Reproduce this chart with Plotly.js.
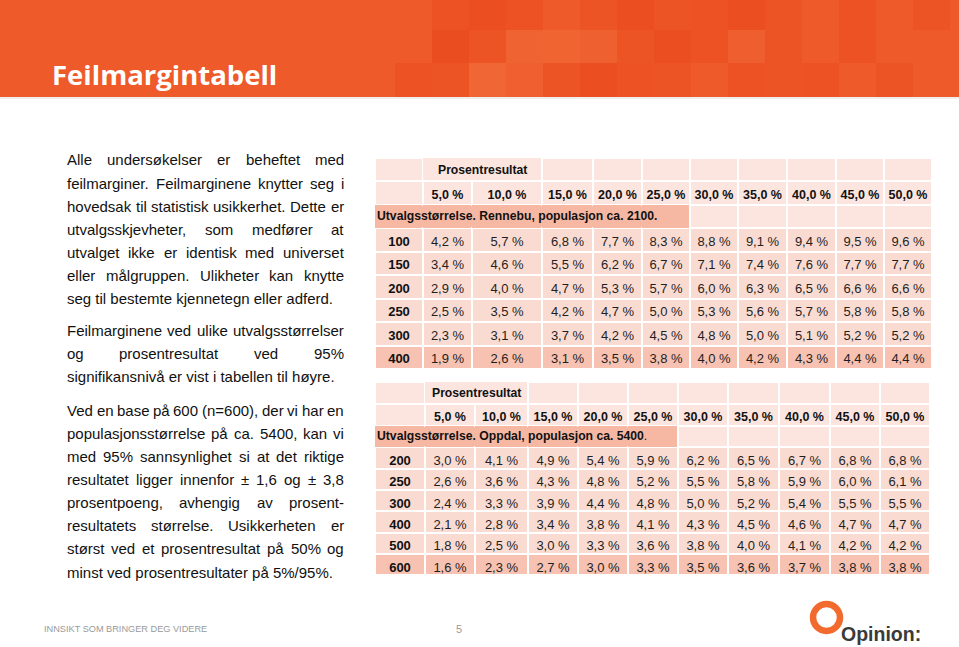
<!DOCTYPE html>
<html><head><meta charset="utf-8">
<script src="https://cdn.plot.ly/plotly-3.0.1.min.js"></script>
<style>html,body{margin:0;padding:0;background:#fff;}#chart{width:959px;height:647px;}</style>
</head><body><div id="chart"></div>
<script>
const W = 959, H = 647;

// ---------- data ----------
const percentLabels = [5, 10, 15, 20, 25, 30, 35, 40, 45, 50];
const headerLabel = 'Prosentresultat';

const rennebuTitle = 'Utvalgsstørrelse. Rennebu, populasjon ca. 2100.';
const rennebuSizes = [100, 150, 200, 250, 300, 400];
const rennebuMargins = [
  [4.2, 5.7, 6.8, 7.7, 8.3, 8.8, 9.1, 9.4, 9.5, 9.6],
  [3.4, 4.6, 5.5, 6.2, 6.7, 7.1, 7.4, 7.6, 7.7, 7.7],
  [2.9, 4.0, 4.7, 5.3, 5.7, 6.0, 6.3, 6.5, 6.6, 6.6],
  [2.5, 3.5, 4.2, 4.7, 5.0, 5.3, 5.6, 5.7, 5.8, 5.8],
  [2.3, 3.1, 3.7, 4.2, 4.5, 4.8, 5.0, 5.1, 5.2, 5.2],
  [1.9, 2.6, 3.1, 3.5, 3.8, 4.0, 4.2, 4.3, 4.4, 4.4]
];

const oppdalTitle = 'Utvalgsstørrelse. Oppdal, populasjon ca. 5400';
const oppdalSizes = [200, 250, 300, 400, 500, 600];
const oppdalMargins = [
  [3.0, 4.1, 4.9, 5.4, 5.9, 6.2, 6.5, 6.7, 6.8, 6.8],
  [2.6, 3.6, 4.3, 4.8, 5.2, 5.5, 5.8, 5.9, 6.0, 6.1],
  [2.4, 3.3, 3.9, 4.4, 4.8, 5.0, 5.2, 5.4, 5.5, 5.5],
  [2.1, 2.8, 3.4, 3.8, 4.1, 4.3, 4.5, 4.6, 4.7, 4.7],
  [1.8, 2.5, 3.0, 3.3, 3.6, 3.8, 4.0, 4.1, 4.2, 4.2],
  [1.6, 2.3, 2.7, 3.0, 3.3, 3.5, 3.6, 3.7, 3.8, 3.8]
];

const slideTitle = 'Feilmargintabell';
const footerText = 'INNSIKT SOM BRINGER DEG VIDERE';
const pageNumber = '5';
const logoText = 'Opinion:';

const paragraphs = [
  ['Alle undersøkelser er beheftet med',
   'feilmarginer.  Feilmarginene knytter seg i',
   'hovedsak til statistisk usikkerhet. Dette er',
   'utvalgsskjevheter, som medfører at',
   'utvalget ikke er identisk med universet',
   'eller målgruppen.  Ulikheter kan knytte',
   'seg til bestemte kjennetegn eller adferd.'],
  ['Feilmarginene ved ulike utvalgsstørrelser',
   'og prosentresultat ved 95%',
   'signifikansnivå er vist i tabellen til høyre.'],
  ['Ved en base på 600 (n=600), der vi har en',
   'populasjonsstørrelse på ca. 5400, kan vi',
   'med 95% sannsynlighet si at det riktige',
   'resultatet ligger innenfor ± 1,6 og ± 3,8',
   'prosentpoeng, avhengig av prosent-',
   'resultatets størrelse. Usikkerheten er',
   'størst ved et prosentresultat på  50% og',
   'minst ved prosentresultater på 5%/95%.']
];

// ---------- helpers ----------
const px = x => x / W;
const py = y => 1 - y / H;
const fmt = v => v.toFixed(1).replace('.', ',') + '\u00a0%';

const C_HEAD = '#FCE5DE', C_CELL = '#FADBD2', C_LAST = '#F7C2B1', C_MERGE = '#F6B8A3';
const TRANSP = 'rgba(0,0,0,0)';
const FONT = 'Liberation Sans, Arial, sans-serif';

function makeTable(sizes, margins, colWidths, x0, y0, headH, cellH) {
  const nCols = percentLabels.length + 1;
  const hv = [], hf = [], hl = [], cv = [], cf = [], cw = [], cc = [];
  for (let c = 0; c < nCols; c++) {
    hv.push(['', c === 0 ? '' : fmt(percentLabels[c - 1]), '']);
    hf.push([C_HEAD, C_HEAD, c <= 5 ? C_MERGE : C_HEAD]);
    hl.push([(c === 1 || c === 2) ? TRANSP : '#ffffff', '#ffffff', c <= 5 ? TRANSP : '#ffffff']);
    if (c === 0) cv.push(sizes.map(s => String(s)));
    else cv.push(margins.map(r => fmt(r[c - 1])));
    cf.push(sizes.map((s, i) => i === sizes.length - 1 ? C_LAST : C_CELL));
    cw.push(c === 0 ? 'bold' : 'normal');
    cc.push(c === 0 ? '#111111' : '#1f1f1f');
  }
  const totalW = colWidths.reduce((a, b) => a + b, 0);
  const totalH = 3 * headH + sizes.length * cellH;
  return {
    type: 'table',
    columnwidth: colWidths,
    domain: { x: [px(x0), px(x0 + totalW)], y: [py(y0 + totalH + 2), py(y0)] },
    header: {
      values: hv, height: headH, align: 'center',
      fill: { color: hf }, line: { color: hl, width: 2 },
      font: { family: FONT, size: 12.5, color: '#111', weight: 'bold' }
    },
    cells: {
      values: cv, height: cellH, align: 'center',
      fill: { color: cf }, line: { color: '#ffffff', width: 2 },
      font: { family: FONT, size: 13, color: cc, weight: cw }
    }
  };
}

const t1 = makeTable(rennebuSizes, rennebuMargins,
  [48, 49, 70, 51, 49, 48, 48, 49, 49, 48, 48], 375, 158, 23.4, 23.5);
const t2 = makeTable(oppdalSizes, oppdalMargins,
  [50, 50, 53, 50, 50, 50, 50, 51, 51, 50, 50], 375, 382, 21.8, 21.3);

// ---------- annotations ----------
const ann = [];
function txt(x, y, text, font, xanchor) {
  ann.push({ xref: 'paper', yref: 'paper', x: px(x), y: py(y), text: text,
    showarrow: false, xanchor: xanchor || 'left', yanchor: 'middle', borderpad: 0, font: font });
}
const mergeFont = { family: FONT, size: 12.2, color: '#111' };
txt(482, 170, '<b>' + headerLabel + '</b>', mergeFont, 'center');
txt(376, 216, '<b>' + rennebuTitle + '</b>', mergeFont);
txt(476, 393, '<b>' + headerLabel + '</b>', mergeFont, 'center');
txt(376, 436, '<b>' + oppdalTitle + '</b>.', mergeFont);

// body text, justified
const bodyFont = { family: FONT, size: 15, color: '#111' };
const ctx = document.createElement('canvas').getContext('2d');
ctx.font = '15px "Liberation Sans"';
const L = 66, R = 343, LS = 23.15;
const starts = [160, 330.5, 410];
paragraphs.forEach((lines, pi) => {
  lines.forEach((line, li) => {
    const y = starts[pi] + li * LS;
    if (li === lines.length - 1) { txt(L, y, line, bodyFont); return; }
    const words = line.split(/\s+/);
    const widths = words.map(w => ctx.measureText(w).width);
    const sum = widths.reduce((a, b) => a + b, 0);
    const gap = (R - L - sum) / (words.length - 1);
    let x = L;
    words.forEach((w, i) => { txt(x, y, w, bodyFont); x += widths[i] + gap; });
  });
});

txt(51, 75, '<b>' + slideTitle + '</b>', { family: 'Open Sans, sans-serif', size: 27.5, color: '#ffffff' });
txt(43, 629, footerText, { family: 'Liberation Sans Narrow, Liberation Sans, sans-serif', size: 9.2, color: '#9a9a9a' });
txt(455, 629, pageNumber, { family: FONT, size: 11, color: '#9a9a9a' });
txt(840, 634, '<b>' + logoText + '</b>', { family: FONT, size: 19.5, color: '#3a3a3a' });

// ---------- shapes ----------
const shapes = [];
shapes.push({ type: 'rect', xref: 'paper', yref: 'paper', x0: 0, x1: 1, y0: py(97), y1: 1,
  fillcolor: '#EE5A29', line: { width: 0 }, layer: 'below' });
const mosaic = [
  ['', '#EB4D20', '#E9471B', '#EB4D20', '', '#EC5022', '#E9471B', '#EC5022', '#EB4D20', '#E9471B', '#EC5022', '', '#EB4D20', '', '#EC5022', ''],
  ['', '#E7441A', '#EC5022', '#F16A38', '#F26D3B', '#F06636', '#EC5022', '#E9471B', '#EB4D20', '#F06234', '#EC5022', '', '#EB4D20', '', '', ''],
  ['#EB4D20', '#EC5022', '#F27240', '#F06535', '#EC5022', '#E9471B', '#EB4D20', '#EC5022', '', '#EB4D20', '#EC5022', '#EB4D20', '', '#EC5022', '', '']
];
const rowsY = [[0, 30], [30, 63], [63, 97]];
mosaic.forEach((row, ri) => row.forEach((col, ci) => {
  if (!col) return;
  const x0 = 395 + ci * 37;
  if (x0 >= W) return;
  shapes.push({ type: 'rect', xref: 'paper', yref: 'paper', x0: px(x0), x1: px(Math.min(W, x0 + 37)),
    y0: py(rowsY[ri][1]), y1: py(rowsY[ri][0]), fillcolor: col, opacity: 0.55, line: { width: 0 }, layer: 'below' });
}));
shapes.push({ type: 'line', xref: 'paper', yref: 'paper', x0: 0, x1: 1, y0: py(98), y1: py(98),
  line: { color: '#eeeeee', width: 2 }, layer: 'below' });
// logo ring
shapes.push({ type: 'circle', xref: 'paper', yref: 'paper', x0: px(813), x1: px(840), y0: py(631), y1: py(604),
  line: { color: '#F26A2E', width: 6.5 }, fillcolor: 'rgba(0,0,0,0)' });

const layout = {
  width: W, height: H, margin: { l: 0, r: 0, t: 0, b: 0 },
  paper_bgcolor: '#ffffff', plot_bgcolor: '#ffffff', showlegend: false,
  xaxis: { visible: false }, yaxis: { visible: false },
  annotations: ann, shapes: shapes
};
Plotly.newPlot('chart', [t1, t2], layout, { staticPlot: true, displayModeBar: false });
</script></body></html>
